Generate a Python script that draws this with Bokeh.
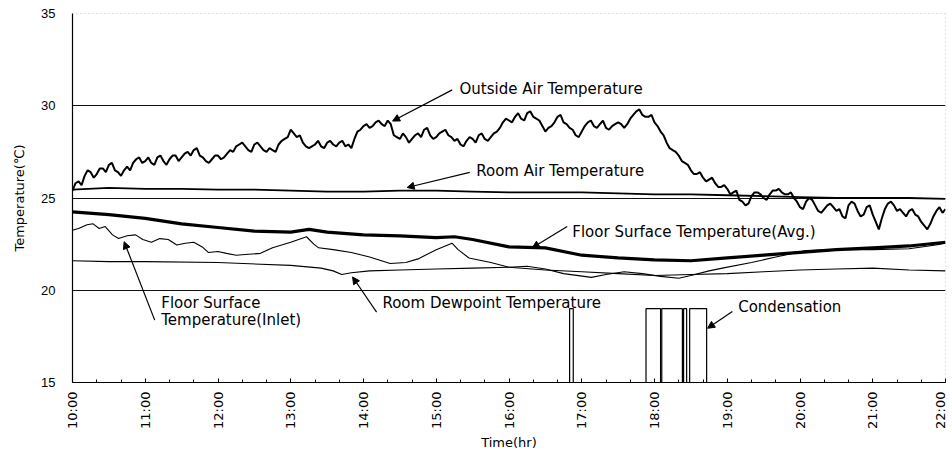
import numpy as np
from bokeh.plotting import figure
from bokeh.models import FixedTicker, Span, Arrow, NormalHead, Label
from bokeh.embed import file_html
from bokeh.resources import INLINE

# ---------------- data ----------------
hour_ticks = [10, 11, 12, 13, 14, 15, 16, 17, 18, 19, 20, 21, 22]
hour_labels = ["10:00", "11:00", "12:00", "13:00", "14:00", "15:00", "16:00",
               "17:00", "18:00", "19:00", "20:00", "21:00", "22:00"]
temp_ticks = [15, 20, 25, 30, 35]

# Outside air temperature, read every 2.5 minutes from 10:00 to 22:00
outside_minutes = [i * 2.5 for i in range(289)]
outside_temp = [
    25.4, 25.8, 25.9, 25.7, 26.2, 26.5, 26.4, 26.1, 26.3, 26.6, 26.6, 26.4,
    26.8, 26.9, 26.5, 26.4, 26.2, 26.5, 26.7, 26.5, 26.9, 27.1, 27.2, 26.9,
    27.0, 27.2, 26.9, 26.8, 27.2, 27.3, 27.0, 26.8, 27.1, 27.3, 27.3, 27.0,
    27.2, 27.4, 27.5, 27.3, 27.6, 27.7, 27.3, 27.2, 27.0, 26.9, 27.1, 27.3,
    27.3, 27.1, 27.2, 27.4, 27.6, 27.5, 27.8, 27.9, 28.0, 27.8, 27.6, 27.5,
    27.9, 28.0, 27.8, 27.6, 27.5, 27.7, 27.6, 27.5, 27.9, 28.1, 28.2, 28.3,
    28.7, 28.5, 28.3, 28.4, 28.0, 27.8, 27.7, 27.8, 27.9, 28.1, 27.8, 27.7,
    28.0, 28.1, 27.9, 27.8, 28.0, 28.1, 27.8, 27.9, 27.7, 28.2, 28.6, 28.7,
    28.9, 29.0, 28.8, 28.9, 29.1, 29.2, 29.0, 28.9, 29.2, 29.0, 28.4, 28.3,
    28.2, 28.5, 28.3, 28.0, 28.2, 28.4, 28.5, 28.3, 28.7, 28.8, 28.4, 28.2,
    28.3, 28.5, 28.6, 28.7, 28.4, 28.3, 28.1, 28.2, 27.9, 27.8, 28.1, 28.3,
    28.2, 28.0, 28.4, 28.5, 28.2, 28.1, 28.3, 28.5, 28.6, 28.8, 29.1, 29.3,
    29.2, 29.1, 29.4, 29.6, 29.3, 29.2, 29.6, 29.7, 29.4, 29.3, 29.2, 28.9,
    28.6, 28.8, 28.9, 29.1, 29.4, 29.5, 29.1, 29.0, 28.8, 28.7, 28.4, 28.3,
    28.6, 28.9, 29.1, 29.2, 28.9, 28.8, 29.0, 29.2, 28.8, 28.7, 28.9, 29.0,
    29.1, 29.0, 28.8, 29.0, 29.3, 29.5, 29.7, 29.8, 29.5, 29.4, 29.4, 29.5,
    29.1, 28.9, 28.6, 28.4, 28.0, 27.7, 27.6, 27.5, 27.3, 27.0, 26.9, 26.8,
    26.5, 26.3, 26.3, 26.4, 26.1, 25.9, 26.0, 26.1, 25.8, 25.6, 25.6, 25.7,
    25.5, 25.2, 25.3, 25.4, 24.9, 24.8, 24.6, 24.7, 25.1, 25.3, 25.3, 25.2,
    25.0, 24.9, 25.2, 25.4, 25.4, 25.5, 25.3, 25.2, 25.2, 25.3, 25.0, 24.8,
    24.5, 24.4, 24.8, 25.0, 24.9, 24.6, 24.3, 24.2, 24.4, 24.6, 24.7, 24.5,
    24.3, 24.4, 24.0, 23.9, 24.6, 24.8, 24.7, 24.3, 24.0, 24.1, 24.5, 24.6,
    24.1, 23.7, 23.3, 23.9, 24.4, 24.7, 24.8, 24.6, 24.3, 24.4, 24.2, 24.0,
    24.3, 24.4, 24.1, 24.0, 23.7, 23.5, 23.3, 23.6, 24.0, 24.3, 24.5, 24.2,
    24.4,
]

room_air_minutes = [0, 30, 60, 90, 120, 150, 180, 210, 240, 270, 300, 330, 360,
                    390, 420, 450, 480, 510, 540, 570, 600, 630, 660, 690, 720]
room_air_temp = [25.45, 25.55, 25.5, 25.5, 25.45, 25.45, 25.4, 25.35, 25.35,
                 25.4, 25.4, 25.35, 25.3, 25.3, 25.3, 25.25, 25.2, 25.2, 25.15,
                 25.1, 25.05, 25.0, 25.0, 25.0, 24.95]

floor_avg_minutes = [0, 30, 60, 90, 120, 150, 180, 195, 210, 240, 270, 300, 315,
                     330, 360, 390, 420, 450, 480, 510, 540, 570, 600, 630, 660,
                     690, 720]
floor_avg_temp = [24.25, 24.1, 23.9, 23.6, 23.4, 23.2, 23.15, 23.3, 23.15, 23.0,
                  22.95, 22.85, 22.9, 22.75, 22.35, 22.3, 21.9, 21.75, 21.65,
                  21.6, 21.75, 21.9, 22.05, 22.2, 22.3, 22.4, 22.6]

floor_inlet_minutes = [0, 5, 12, 17, 22, 27, 33, 38, 45, 52, 58, 65, 72, 79, 86,
                       93, 100, 107, 112, 120, 127, 135, 145, 155, 165, 180, 193,
                       199, 203, 215, 230, 245, 262, 275, 285, 300, 313, 318, 327,
                       345, 360, 375, 390, 405, 428, 440, 455, 470, 485, 500, 510,
                       525, 536, 560, 580, 605, 630, 660, 690, 712, 720]
floor_inlet_temp = [23.25, 23.35, 23.55, 23.6, 23.35, 23.45, 23.0, 22.8, 22.95,
                    23.0, 22.75, 22.6, 22.8, 22.75, 22.45, 22.55, 22.6, 22.35,
                    22.05, 22.1, 22.0, 21.9, 21.95, 22.0, 22.3, 22.6, 22.9, 22.5,
                    22.3, 22.2, 22.05, 21.8, 21.45, 21.5, 21.7, 22.2, 22.55, 22.2,
                    21.75, 21.5, 21.25, 21.3, 21.15, 20.9, 20.7, 20.85, 21.0,
                    20.9, 20.75, 20.65, 20.8, 21.05, 21.2, 21.5, 21.8, 22.15,
                    22.2, 22.2, 22.25, 22.45, 22.55]

dewpoint_minutes = [0, 30, 60, 120, 180, 205, 215, 222, 230, 245, 270, 300, 330,
                    360, 390, 420, 450, 480, 510, 540, 570, 600, 630, 660, 690,
                    720]
dewpoint_temp = [21.6, 21.55, 21.55, 21.5, 21.35, 21.2, 21.05, 20.85, 20.95,
                 21.05, 21.1, 21.15, 21.2, 21.25, 21.1, 21.0, 20.9, 20.8, 20.85,
                 20.9, 21.0, 21.1, 21.15, 21.2, 21.1, 21.05]

# Condensation periods (minutes after 10:00) and indicator level
cond_start_minutes = [410, 473, 486, 504, 509]
cond_end_minutes = [413, 485, 503, 506.5, 523]
cond_level = 19.0
base_level = 15.0


def to_hours(mins):
    return [10 + m / 60.0 for m in mins]


# ---------------- figure ----------------
p = figure(width=947, height=452, output_backend="svg", toolbar_location=None,
           x_range=(10, 22), y_range=(15, 35),
           min_border_left=72, min_border_right=2, min_border_top=13,
           min_border_bottom=66, background_fill_color="white")
p.outline_line_color = None

# axes
p.xaxis.ticker = FixedTicker(ticks=hour_ticks,
                             minor_ticks=[10 + i / 3.0 for i in range(37)])
p.xaxis.major_label_overrides = {t: l for t, l in zip(hour_ticks, hour_labels)}
p.xaxis.major_label_orientation = np.pi / 2
p.xaxis.major_label_text_font = "DejaVu Sans"
p.xaxis.major_label_text_font_size = "13px"
p.xaxis.major_label_standoff = 9
p.xaxis.major_tick_in = 4
p.xaxis.major_tick_out = 0
p.xaxis.minor_tick_in = 3
p.xaxis.minor_tick_out = 0
p.xaxis.axis_label = "Time(hr)"
p.xaxis.axis_label_text_font = "DejaVu Sans"
p.xaxis.axis_label_text_font_size = "13px"
p.xaxis.axis_label_text_font_style = "normal"
p.xaxis.axis_label_standoff = 3

p.yaxis.ticker = FixedTicker(ticks=temp_ticks)
p.yaxis.major_label_text_font = "Liberation Sans"
p.yaxis.major_label_text_font_size = "13px"
p.yaxis.major_label_standoff = 17
p.yaxis.major_tick_in = 0
p.yaxis.major_tick_out = 0
p.yaxis.minor_tick_line_color = None
p.yaxis.axis_label = "Temperature(\u2103)"
p.yaxis.axis_label_text_font = "DejaVu Sans"
p.yaxis.axis_label_text_font_size = "13px"
p.yaxis.axis_label_text_font_style = "normal"
p.yaxis.axis_label_standoff = 11

for ax in (p.xaxis, p.yaxis):
    ax.axis_line_color = "black"
    ax.axis_line_width = 1.2
    ax.major_label_text_color = "black"
    ax.axis_label_text_color = "black"
    ax.major_tick_line_color = "black"

p.xgrid.grid_line_color = None
p.ygrid.ticker = FixedTicker(ticks=[20, 25, 30])
p.ygrid.grid_line_color = "#111111"
p.ygrid.grid_line_width = 1

# dotted top and right frame
p.add_layout(Span(location=35, dimension="width", line_color="#888888",
                  line_dash="1 3", line_width=1))
p.add_layout(Span(location=22, dimension="height", line_color="#888888",
                  line_dash="1 3", line_width=1))

# series
p.line(to_hours(dewpoint_minutes), dewpoint_temp, line_color="black", line_width=1.1)
p.line(to_hours(floor_inlet_minutes), floor_inlet_temp, line_color="black", line_width=1.1)
p.line(to_hours(floor_avg_minutes), floor_avg_temp, line_color="black", line_width=3.2)
p.line(to_hours(room_air_minutes), room_air_temp, line_color="black", line_width=1.8)
p.line(to_hours(outside_minutes), outside_temp, line_color="black", line_width=2.0)

p.quad(left=to_hours(cond_start_minutes), right=to_hours(cond_end_minutes),
       bottom=[base_level] * len(cond_start_minutes),
       top=[cond_level] * len(cond_start_minutes),
       fill_color="white", fill_alpha=0.0, line_color="black", line_width=1.2)

# annotations
FONT = "DejaVu Sans"
FS = "15px"
labels = [
    ("Outside Air Temperature", 15.32, 30.91),
    ("Room Air Temperature", 15.55, 26.44),
    ("Floor Surface Temperature(Avg.)", 16.87, 23.17),
    ("Floor Surface", 11.22, 19.31),
    ("Temperature(Inlet)", 11.22, 18.38),
    ("Room Dewpoint Temperature", 14.26, 19.31),
    ("Condensation", 19.15, 19.10),
]
for txt, lx, ly in labels:
    p.add_layout(Label(x=lx, y=ly, text=txt, text_font=FONT, text_font_size=FS,
                       text_baseline="middle", text_align="left",
                       text_color="black"))

arrows = [
    (15.22, 30.86, 14.40, 29.17),
    (15.46, 26.39, 14.60, 25.57),
    (16.80, 23.45, 16.32, 22.30),
    (11.13, 18.38, 10.71, 22.63),
    (14.18, 18.81, 13.85, 20.72),
    (19.07, 18.85, 18.73, 17.94),
]
for xs, ys, xe, ye in arrows:
    p.add_layout(Arrow(end=NormalHead(size=7, fill_color="black",
                                      line_color="black", line_width=1),
                       x_start=xs, y_start=ys, x_end=xe, y_end=ye,
                       line_color="black", line_width=1.2))

open("out.html", "w").write(file_html(p, INLINE))
